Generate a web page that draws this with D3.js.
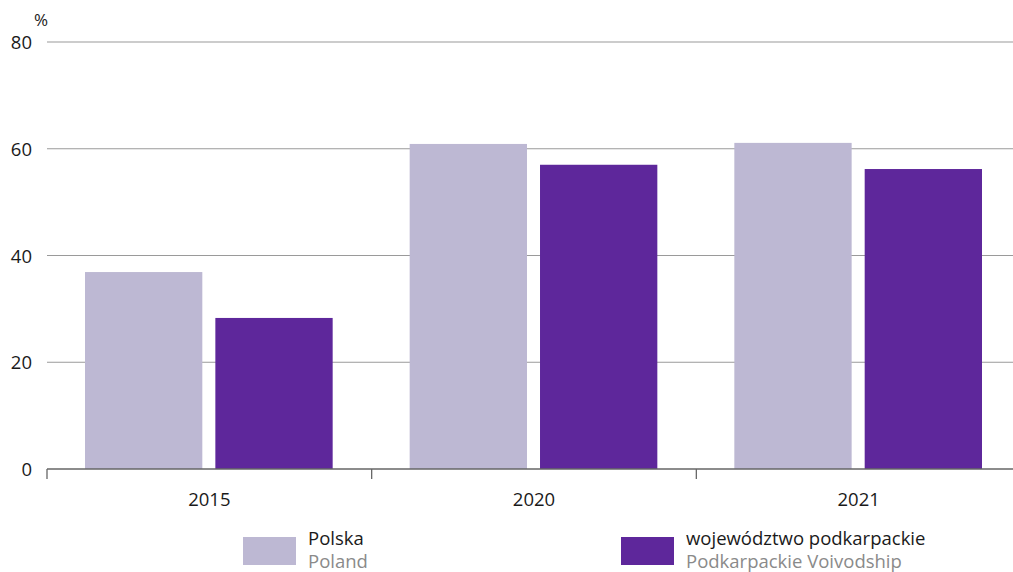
<!DOCTYPE html>
<html>
<head>
<meta charset="utf-8">
<script src="https://cdn.jsdelivr.net/npm/d3@7"></script>
<style>
  html, body { margin: 0; padding: 0; background: #fff; }
  svg { display: block; font-family: "Open Sans", "Noto Sans", sans-serif; }
</style>
</head>
<body>
<svg id="chart" width="1013" height="572"></svg>
<script>
// Share of population (%) – Polska vs województwo podkarpackie
const years = ["2015", "2020", "2021"];
const polska = [36.9, 60.9, 61.1];
const podkarpackie = [28.3, 57.0, 56.2];
const yTicks = [0, 20, 40, 60, 80];
const seriesNames = ["Polska", "województwo podkarpackie"];
const seriesNamesEn = ["Poland", "Podkarpackie Voivodship"];
const colors = ["#bdb8d3", "#5e279b"];

const svg = d3.select("#chart");
const plotLeft = 47, plotRight = 1021, plotTop = 42, plotBottom = 469;
const fontSize = 18.5;

const x = d3.scaleBand().domain(years).range([plotLeft, plotRight]).paddingInner(0).paddingOuter(0);
const inner = d3.scaleBand().domain([0, 1]).range([38, x.bandwidth() - 39]).paddingInner(0.1);
const y = d3.scaleLinear().domain([0, 80]).range([plotBottom, plotTop]);

// horizontal grid lines
svg.append("g")
  .selectAll("line")
  .data(yTicks.filter(d => d > 0))
  .join("line")
  .attr("x1", plotLeft).attr("x2", 1013)
  .attr("y1", d => y(d)).attr("y2", d => y(d))
  .attr("stroke", "#9a9a9a").attr("stroke-width", 1.2);

// y tick labels
svg.append("g")
  .selectAll("text")
  .data(yTicks)
  .join("text")
  .attr("x", 32).attr("y", d => y(d) + 7)
  .attr("text-anchor", "end")
  .attr("font-size", fontSize).attr("fill", "#1a1a1a")
  .text(d => d);

svg.append("text")
  .attr("x", 34).attr("y", 26)
  .attr("font-size", 17).attr("fill", "#1a1a1a")
  .text("%");

// bars
const series = [polska, podkarpackie];
const groups = svg.append("g")
  .selectAll("g")
  .data(years)
  .join("g")
  .attr("transform", d => `translate(${x(d)},0)`);

groups.selectAll("rect")
  .data((d, i) => series.map((s, k) => ({ k, v: s[i] })))
  .join("rect")
  .attr("x", d => inner(d.k))
  .attr("width", inner.bandwidth())
  .attr("y", d => y(d.v))
  .attr("height", d => y(0) - y(d.v))
  .attr("fill", d => colors[d.k]);

// x axis
const xAxis = d3.axisBottom(x).tickSize(0).tickPadding(0).tickFormat(d => d);
const gx = svg.append("g").attr("transform", `translate(0,${plotBottom})`).call(xAxis);
gx.select(".domain").attr("stroke", "#666").attr("stroke-width", 1.3).attr("d", `M${plotLeft},0H1013`);
gx.selectAll(".tick text").attr("font-size", fontSize).attr("fill", "#1a1a1a").attr("dy", 0).attr("y", 37)
  .attr("font-family", "\"Open Sans\", \"Noto Sans\", sans-serif");

// boundary ticks between categories
svg.append("g")
  .selectAll("line")
  .data(years)
  .join("line")
  .attr("x1", d => x(d)).attr("x2", d => x(d))
  .attr("y1", plotBottom).attr("y2", plotBottom + 10)
  .attr("stroke", "#666").attr("stroke-width", 1.3);

// legend
const legendX = [243, 621];
const legend = svg.append("g")
  .selectAll("g")
  .data(seriesNames)
  .join("g")
  .attr("transform", (d, i) => `translate(${legendX[i]},537)`);
legend.append("rect").attr("width", 53).attr("height", 28).attr("fill", (d, i) => colors[i]);
legend.append("text").attr("x", 65).attr("y", 8).attr("font-size", fontSize).attr("fill", "#1a1a1a").text(d => d);
legend.append("text").attr("x", 65).attr("y", 31).attr("font-size", fontSize).attr("fill", "#8a8a8a")
  .text((d, i) => seriesNamesEn[i]);
</script>
</body>
</html>
